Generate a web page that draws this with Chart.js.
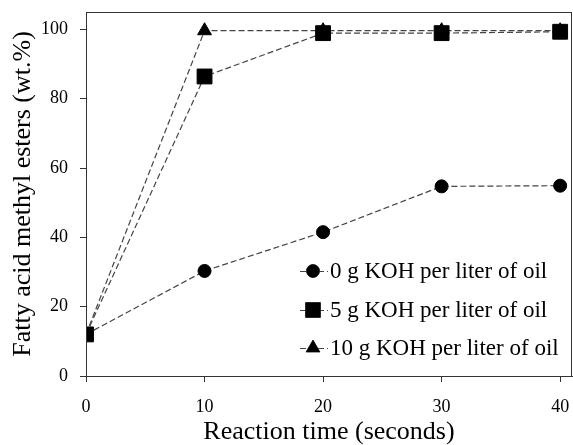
<!DOCTYPE html>
<html>
<head>
<meta charset="utf-8">
<script src="https://cdn.jsdelivr.net/npm/chart.js@4"></script>
<style>
  html, body { margin:0; padding:0; background:#fff; }
  #wrap { width:573px; height:445px; }
</style>
</head>
<body>
<div id="wrap"><canvas id="c"></canvas></div>
<script>
const times = [0, 10, 20, 30, 40];
const koh0 = [12, 30.3, 41.5, 54.7, 54.9];
const koh5 = [12, 86.4, 98.9, 98.9, 99.3];
const koh10 = [12, 99.6, 99.6, 99.6, 99.6];
const yTicks = [0, 20, 40, 60, 80, 100];
const labels = ["0 g KOH per liter of oil", "5 g KOH per liter of oil", "10 g KOH per liter of oil"];

function series(vals){
    return vals.map((v,i)=>({x:times[i], y:v}));
}

function makeSet(label, vals, style, radius, order){
    return {
        label:label,
        data:series(vals),
        borderColor:'#444',
        borderWidth:1.2,
        borderDash:[6,3],
        pointStyle:style,
        pointRadius:radius,
        pointBackgroundColor:'#000',
        pointBorderColor:'#000',
        pointBorderWidth:1,
        order:order,
        tension:0
    };
}

// frame round the plot area + legend drawn inside it
const frame = {
    id:'frame',
    afterDraw(chart){
        const a = chart.chartArea, ctx = chart.ctx;
        ctx.save();
        ctx.strokeStyle = '#333';
        ctx.lineWidth = 1;
        ctx.strokeRect(a.left+0.5, a.top+0.5, a.right-a.left-1, a.bottom-a.top);

        const rows = [271, 310, 348];
        ctx.font = '23px "Liberation Serif"';
        ctx.textBaseline = 'middle';
        chart.data.datasets.forEach((ds,i)=>{
            const y = rows[i], x0 = 300;
            ctx.setLineDash([6,3]);
            ctx.strokeStyle = '#444';
            ctx.beginPath(); ctx.moveTo(x0, y+0.5); ctx.lineTo(x0+28, y+0.5); ctx.stroke();
            ctx.setLineDash([]);
            Chart.helpers.drawPoint(ctx, {pointStyle:ds.pointStyle, radius:ds.pointRadius, borderWidth:1}, x0+13, y);
            ctx.fillStyle = '#000';
            ctx.fill();
            ctx.fillText(ds.label, 330, y+1);
        });
        ctx.restore();
    }
};

new Chart(document.getElementById('c'), {
    type:'line',
    data:{
        datasets:[
            makeSet(labels[0], koh0, 'circle', 6.5, 2),
            makeSet(labels[1], koh5, 'rect', 10.5, 0),
            makeSet(labels[2], koh10, 'triangle', 8, 1)
        ]
    },
    options:{
        animation:false,
        responsive:true,
        maintainAspectRatio:false,
        layout:{ autoPadding:false, padding:{ left:8, right:1, top:12, bottom:-3 } },
        plugins:{ legend:{ display:false }, tooltip:{ enabled:false } },
        scales:{
            x:{
                type:'linear', min:0, max:41,
                afterBuildTicks(ax){ ax.ticks = times.map(v=>({value:v})); },
                afterFit(ax){ ax.height = 72; ax.paddingLeft = 0; ax.paddingRight = 0; },
                grid:{ display:true, drawOnChartArea:false, drawTicks:true, tickLength:6, tickColor:'#333' },
                border:{ color:'#333' },
                ticks:{ color:'#000', font:{ family:'Liberation Serif', size:18 }, padding:14, maxRotation:0 },
                title:{ display:true, text:'Reaction time (seconds)', color:'#000',
                        font:{ family:'Liberation Serif', size:26 }, padding:{top:-1, bottom:0} }
            },
            y:{
                min:0, max:105,
                afterBuildTicks(ax){ ax.ticks = yTicks.map(v=>({value:v})); },
                afterFit(ax){ ax.width = 78; ax.paddingTop = 0; ax.paddingBottom = 0; },
                grid:{ display:true, drawOnChartArea:false, drawTicks:true, tickLength:6, tickColor:'#333' },
                border:{ color:'#333' },
                ticks:{ color:'#000', font:{ family:'Liberation Serif', size:18 }, padding:12 },
                title:{ display:true, text:'Fatty acid methyl esters (wt.%)', color:'#000',
                        font:{ family:'Liberation Serif', size:26 }, padding:0 }
            }
        }
    },
    plugins:[frame]
});
</script>
</body>
</html>
